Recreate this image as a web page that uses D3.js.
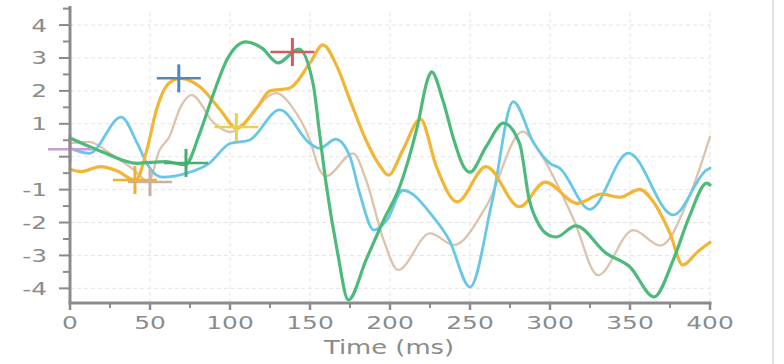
<!DOCTYPE html>
<html><head><meta charset="utf-8">
<script src="https://cdn.jsdelivr.net/npm/d3@7"></script>
<style>body{margin:0;background:#fff}svg{display:block}</style>
</head><body>
<svg id="c" width="784" height="364"></svg>
<script>
// ---- data ----
const greenT = [0,20,42,60,72,81,89,98,110,120,130,143,152,156,160,167,174,185,196,206,217,224,226,233,240,246,250,260,271,281,287,294,300,304,316,335,350,365,377,387,398,400];
const greenV = [0.57,0.15,-0.2,-0.15,-0.25,0.7,1.82,2.94,3.49,3.3,2.85,3.27,2.2,0.7,-0.8,-2.85,-4.35,-3.14,-1.93,-0.92,0.9,2.42,2.58,1.72,0.5,-0.3,-0.47,0.3,1.02,0.4,-1.3,-2.14,-2.4,-2.44,-2.1,-2.93,-3.35,-4.26,-3.14,-1.83,-0.8,-0.86];

const orangeT = [0,7,19,29,41,48,54,62,69,81,94,104,117,125,137,150,158,167,175,185,194,199,208,219,229,242,260,281,297,317,332,344,356,365,375,383,392,400];
const orangeV = [-0.38,-0.45,-0.3,-0.42,-0.72,0.2,1.42,2.24,2.38,2.13,1.42,0.87,1.5,2.0,2.08,2.85,3.4,2.73,1.72,0.5,-0.3,-0.56,0.2,1.14,-0.3,-1.37,-0.3,-1.52,-0.77,-1.42,-1.14,-1.23,-0.99,-1.4,-2.33,-3.29,-2.9,-2.6];

const blueT = [0,12,32,42,48,54,58,73,87,100,112,131,150,156,166,175,181,190,198,208,227,237,250,264,277,290,300,306,325,349,377,398,400];
const blueV = [0.26,0.1,1.2,0.41,-0.2,-0.56,-0.62,-0.5,-0.2,0.4,0.5,1.42,0.4,0.25,0.53,0,-1.1,-2.23,-1.93,-1.02,-1.83,-2.53,-3.96,-1.32,1.67,0.4,-0.2,-0.35,-1.6,0.11,-1.77,-0.4,-0.35];

const tanT = [0,12,25,40,49,56,62,69,76,90,100,129,139,150,156,160,177,185,196,205,225,240,260,283,294,315,330,352,369,387,400];
const tanV = [0.41,0.45,0.1,-0.4,-0.76,0.2,0.6,1.5,1.87,1.02,0.75,1.93,1.5,0.5,-0.4,-0.59,0.1,-0.7,-2.53,-3.44,-2.33,-2.68,-1.52,0.76,0.1,-1.93,-3.6,-2.23,-2.7,-1.22,0.6];

const markerT = [0,68,40.6,50,72.5,104,139];
const markerV = [0.23,2.38,-0.71,-0.77,-0.19,0.9,3.18];
const markerColors = ["#c99cda","#5287b9","#f0b030","#cbb09f","#45ad6e","#e6d34a","#d65a5a"];

const xTicks = [0,25,50,75,100,125,150,175,200,225,250,275,300,325,350,375,400];
const xLabels = [0,50,100,150,200,250,300,350,400];
const yTicks = [-4,-3.5,-3,-2.5,-2,-1.5,-1,-0.5,0,0.5,1,1.5,2,2.5,3,3.5,4,4.5];
const yLabels = [-4,-3,-2,-1,1,2,3,4];
const xTitle = "Time (ms)";

// ---- chart ----
const svg = d3.select("#c");
const x = d3.scaleLinear().domain([0,400]).range([70,710]);
const y = d3.scaleLinear().domain([-4.5,4.5]).range([304.8,8.6]);
const yBottom = 303, yTop = 6;
const grey = "#8b8b8b";
const stretch = 1.38;

// grid
const grid = svg.append("g").attr("stroke","#e4e4e4").attr("stroke-width",1).attr("stroke-dasharray","4,3");
grid.selectAll("line.h").data(d3.range(-4,5)).join("line")
  .attr("x1",x(0)).attr("x2",x(400)).attr("y1",d=>y(d)).attr("y2",d=>y(d));
grid.selectAll("line.v").data(xLabels.slice(1)).join("line")
  .attr("x1",d=>x(d)).attr("x2",d=>x(d)).attr("y1",yTop+6).attr("y2",yBottom);

// right edge decoration
svg.append("line").attr("x1",773).attr("x2",773).attr("y1",0).attr("y2",364)
  .attr("stroke","#d3d9e3").attr("stroke-width",1.5);

// series
const series = [
  {t:tanT, v:tanV, c:"#dcc3ab", w:2.3},
  {t:blueT, v:blueV, c:"#68c7e8", w:2.8},
  {t:orangeT, v:orangeV, c:"#f2b534", w:3.2},
  {t:greenT, v:greenV, c:"#4dba7b", w:3.2}
];
const line = d3.line().x(d=>x(d[0])).y(d=>y(d[1])).curve(d3.curveMonotoneX);
series.forEach(s=>{
  svg.append("path").datum(s.t.map((t,i)=>[t,s.v[i]]))
    .attr("d",line).attr("fill","none").attr("stroke",s.c).attr("stroke-width",s.w)
    .attr("stroke-linejoin","round").attr("stroke-linecap","round");
});

// markers (crosses)
const mg = svg.append("g");
markerT.forEach((t,i)=>{
  const cx = x(t), cy = y(markerV[i]);
  mg.append("line").attr("x1",cx-22).attr("x2",cx+22).attr("y1",cy).attr("y2",cy)
    .attr("stroke",markerColors[i]).attr("stroke-width",2.5);
  mg.append("line").attr("x1",cx).attr("x2",cx).attr("y1",cy-14).attr("y2",cy+14)
    .attr("stroke",markerColors[i]).attr("stroke-width",3);
});

// axes
const ax = svg.append("g");
ax.append("line").attr("x1",x(0)).attr("x2",x(0)).attr("y1",yTop).attr("y2",yBottom)
  .attr("stroke",grey).attr("stroke-width",3);
ax.append("line").attr("x1",x(0)-1.5).attr("x2",x(400)+1.5).attr("y1",yBottom).attr("y2",yBottom)
  .attr("stroke",grey).attr("stroke-width",3);
ax.selectAll("line.yt").data(yTicks).join("line")
  .attr("x1",d=>Number.isInteger(d)?x(0)-11:x(0)-7).attr("x2",x(0))
  .attr("y1",d=>y(d)).attr("y2",d=>y(d)).attr("stroke",grey).attr("stroke-width",2);
ax.selectAll("line.xt").data(xTicks).join("line")
  .attr("x1",d=>x(d)).attr("x2",d=>x(d)).attr("y1",yBottom)
  .attr("y2",d=>d%50===0?yBottom+7:yBottom+5).attr("stroke",grey).attr("stroke-width",d=>d%50===0?2.5:2);

const font = "DejaVu Sans, Verdana, sans-serif";
ax.selectAll("text.yl").data(yLabels).join("text")
  .attr("transform",d=>`translate(47,${y(d)+6.5}) scale(${stretch},1)`)
  .attr("text-anchor","end").attr("font-family",font).attr("font-size",18).attr("fill",grey)
  .text(d=>d);
ax.selectAll("text.xl").data(xLabels).join("text")
  .attr("transform",d=>`translate(${x(d)},329) scale(${stretch},1)`)
  .attr("text-anchor","middle").attr("font-family",font).attr("font-size",18).attr("fill",grey)
  .text(d=>d);
ax.append("text").attr("transform",`translate(389,354) scale(1.36,1)`)
  .attr("text-anchor","middle").attr("font-family",font).attr("font-size",19).attr("fill",grey)
  .text(xTitle);
</script>
</body></html>
